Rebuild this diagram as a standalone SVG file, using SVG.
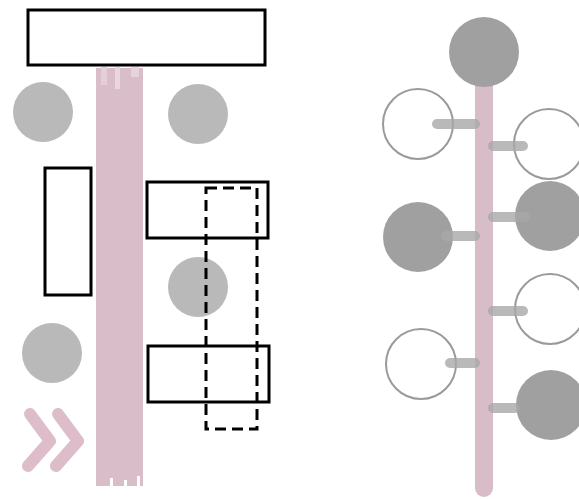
<svg xmlns="http://www.w3.org/2000/svg" width="579" height="499" viewBox="0 0 579 499">
<style>
.box{fill:none;stroke:#000;stroke-width:3}
.dash{fill:none;stroke:#000;stroke-width:3;stroke-dasharray:11 6}
.lc{fill:#b9b9b9}
.full{fill:#a0a0a0}
.open{fill:none;stroke:#9a9a9a;stroke-width:2}
.stub{stroke:#a8a8a8;stroke-opacity:0.8;stroke-width:10;stroke-linecap:round}
.chev{fill:none;stroke:#d9b6c3;stroke-width:12;stroke-linecap:round;stroke-linejoin:round;opacity:0.9}
</style>
<rect width="579" height="499" fill="#fff"/>
<g id="brush">
<rect x="96" y="68" width="47" height="418" fill="#d9bdc9"/>
<rect x="101" y="67" width="6" height="18" fill="#e4cfd8"/>
<rect x="115" y="67" width="5" height="22" fill="#e8d7de"/>
<rect x="131" y="67" width="8" height="10" fill="#e6d3db"/>
<rect x="110" y="478" width="3" height="10" fill="#fff"/>
<rect x="124" y="480" width="3" height="8" fill="#fff"/>
<rect x="137" y="476" width="3" height="12" fill="#fff"/>
</g>
<g id="chevrons">
<polyline class="chev" points="30,414 50,441 28,466"/>
<polyline class="chev" points="58,414 78,441 56,466"/>
</g>
<g id="top-box"><rect class="box" x="28" y="10" width="237" height="55"/></g>
<g id="circle-tl"><circle class="lc" cx="43" cy="112" r="30"/></g>
<g id="circle-tr"><circle class="lc" cx="198" cy="114" r="30"/></g>
<g id="circle-mid"><circle class="lc" cx="198" cy="287" r="30"/></g>
<g id="circle-bl"><circle class="lc" cx="52" cy="353" r="30"/></g>
<g id="tall-box"><rect class="box" x="45" y="168" width="46" height="127"/></g>
<g id="box-r1"><rect class="box" x="147" y="182" width="121" height="56"/></g>
<g id="box-r2"><rect class="box" x="148" y="346" width="121" height="56"/></g>
<g id="dashed-box"><rect class="dash" x="206" y="188" width="51" height="241"/></g>

<g id="connectors">
<line x1="484" y1="70" x2="484" y2="488" stroke="#d8bcc8" stroke-width="18" stroke-linecap="round"/>
</g>
<g id="node-top"><circle class="full" cx="484" cy="52" r="35"/></g>
<g id="node-l1"><circle class="open" cx="418" cy="124" r="35"/></g>
<g id="node-r1"><circle class="open" cx="549" cy="144" r="35"/></g>
<g id="node-r2"><circle class="full" cx="550" cy="216" r="35"/></g>
<g id="node-l2"><circle class="full" cx="418" cy="237" r="35"/></g>
<g id="node-r3"><circle class="open" cx="550" cy="309" r="35"/></g>
<g id="node-l3"><circle class="open" cx="421" cy="364" r="35"/></g>
<g id="node-r4"><circle class="full" cx="551" cy="405" r="35"/></g>
<g id="stubs">
<line class="stub" x1="437" y1="124" x2="475" y2="124"/>
<line class="stub" x1="493" y1="146" x2="523" y2="146"/>
<line class="stub" x1="493" y1="217" x2="525" y2="217"/>
<line class="stub" x1="446" y1="236" x2="475" y2="236"/>
<line class="stub" x1="493" y1="311" x2="523" y2="311"/>
<line class="stub" x1="450" y1="363" x2="475" y2="363"/>
<line class="stub" x1="493" y1="408" x2="515" y2="408"/>
</g>
</svg>
